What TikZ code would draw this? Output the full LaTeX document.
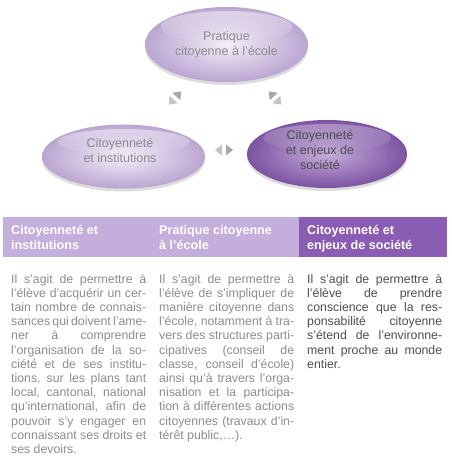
\documentclass[tikz,border=0pt]{standalone}
\usepackage{fontspec}
\setmainfont{Liberation Sans}
\usetikzlibrary{shapes.geometric,shadows,fadings}
\definecolor{lavlight}{HTML}{C4AEDC}
\definecolor{lavdark}{HTML}{8A5CB4}
\definecolor{txtgray}{HTML}{8C8C8C}
\definecolor{txtdark}{HTML}{4D4D4D}
\definecolor{arrA}{HTML}{C4C4C4}
\definecolor{arrB}{HTML}{A8A8A8}
\newlength\colw \setlength\colw{135pt}
\newcommand\jline[1]{\hbox to \colw{#1}}
\newcommand\lline[1]{\hbox{#1}}
\newcommand\arrpair[3]{%
  \begin{scope}[shift={(#1,#2)},rotate=#3]
    \fill[arrA] (-2,-5.5) -- (-2,5.5) -- (-9,0) -- cycle;
    \fill[arrB] (2,-5.5) -- (2,5.5) -- (9,0) -- cycle;
  \end{scope}}
\begin{document}
\begin{tikzpicture}[x=1pt,y=-1pt,
  bubble/.style={ellipse, inner sep=0pt, draw=none,
    drop shadow={opacity=0.28, shadow xshift=0pt, shadow yshift=-3pt}},
  lightbubble/.style={bubble, inner color=lavlight!20!white, outer color=lavlight!95!black},
  darkbubble/.style={bubble, inner color=lavdark!50!white, outer color=lavdark!90!black},
  btext/.style={inner sep=0pt, align=center, font=\fontsize{12.5}{15}\selectfont},
  headtext/.style={inner sep=0pt, anchor=base west, text=white, font=\bfseries\fontsize{12.6}{15}\selectfont},
  bodytext/.style={inner sep=0pt, anchor=base west, font=\fontsize{12.3}{14.2}\selectfont}
]
\useasboundingbox (0,0) rectangle (451,461);

% ellipses
\node[lightbubble, minimum width=163pt, minimum height=75pt] (top) at (226.5,44.5) {};
\node[lightbubble, minimum width=163pt, minimum height=64pt] (left) at (123.5,156.5) {};
\node[darkbubble, minimum width=160pt, minimum height=68pt] (right) at (327,154) {};
% glossy highlights
\fill[white, opacity=0.45, path fading=south] (226.5,27) ellipse [x radius=66, y radius=16];
\fill[white, opacity=0.45, path fading=south] (123.5,142) ellipse [x radius=66, y radius=13];
\fill[white, opacity=0.30, path fading=south] (327,138) ellipse [x radius=64, y radius=14];

\node[btext, text=txtgray] (toplbl) at (226.5,45) {Pratique\\citoyenne à l’école};
\node[btext, text=txtgray] (leftlbl) at (120,150) {Citoyenneté\\et institutions};
\node[btext, text=txtdark] (rightlbl) at (320,149.5) {Citoyenneté\\et enjeux de\\société};

% double arrows
\arrpair{175}{98}{47}
\arrpair{275}{98}{133}
\arrpair{224}{150}{0}

% header bar
\fill[lavlight] (3,217) rectangle (299,257);
\fill[lavdark] (299,217) rectangle (447,257);
\node[headtext] (h1) at (11,234) {\parbox[t]{140pt}{\baselineskip=15pt\raggedright Citoyenneté et\\institutions}};
\node[headtext] (h2) at (159,234) {\parbox[t]{140pt}{\baselineskip=15pt\raggedright Pratique citoyenne\\à l’école}};
\node[headtext] (h3) at (307,234) {\parbox[t]{140pt}{\baselineskip=15pt\raggedright Citoyenneté et\\enjeux de société}};

% body texts
\node[bodytext, text=txtgray] (b1) at (11,283) {\parbox[t]{\colw}{\baselineskip=14.2pt
\jline{Il s’agit de permettre à}
\jline{l’élève d’acquérir un cer-}
\jline{tain nombre de connais-}
\jline{sances qui doivent l’ame-}
\jline{ner à comprendre}
\jline{l’organisation de la so-}
\jline{ciété et de ses institu-}
\jline{tions, sur les plans tant}
\jline{local, cantonal, national}
\jline{qu’international, afin de}
\jline{pouvoir s’y engager en}
\jline{connaissant ses droits et}
\lline{ses devoirs.}}};

\node[bodytext, text=txtgray] (b2) at (159,283) {\parbox[t]{\colw}{\baselineskip=14.2pt
\jline{Il s’agit de permettre à}
\jline{l’élève de s’impliquer de}
\jline{manière citoyenne dans}
\jline{l’école, notamment à tra-}
\jline{vers des structures parti-}
\jline{cipatives (conseil de}
\jline{classe, conseil d’école)}
\jline{ainsi qu’à travers l’orga-}
\jline{nisation et la participa-}
\jline{tion à différentes actions}
\jline{citoyennes (travaux d’in-}
\lline{térêt public,…).}}};

\node[bodytext, text=txtdark] (b3) at (307,283) {\parbox[t]{\colw}{\baselineskip=14.2pt
\jline{Il s’agit de permettre à}
\jline{l’élève de prendre}
\jline{conscience que la res-}
\jline{ponsabilité citoyenne}
\jline{s’étend de l’environne-}
\jline{ment proche au monde}
\lline{entier.}}};
\end{tikzpicture}
\end{document}
